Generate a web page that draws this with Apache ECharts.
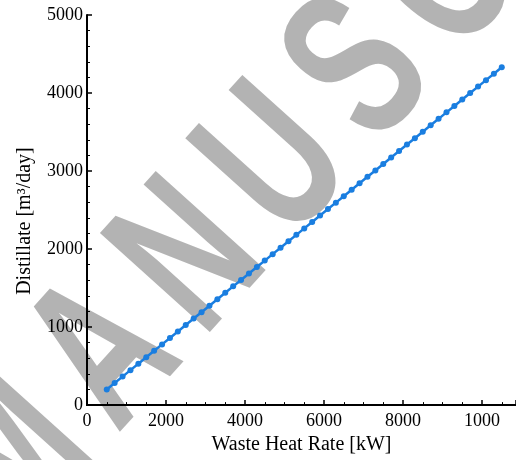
<!DOCTYPE html>
<html>
<head>
<meta charset="utf-8">
<script src="https://cdn.jsdelivr.net/npm/echarts@6/dist/echarts.min.js"></script>
<style>html,body{margin:0;padding:0;background:#fff}#c{width:516px;height:460px}</style>
</head>
<body>
<div id="c"></div>
<script>
var wasteHeat = [500,700,900,1100,1300,1500,1700,1900,2100,2300,2500,2700,2900,3100,3300,3500,3700,3900,4100,4300,4500,4700,4900,5100,5300,5500,5700,5900,6100,6300,6500,6700,6900,7100,7300,7500,7700,7900,8100,8300,8500,8700,8900,9100,9300,9500,9700,9900,10100,10300,10500];
var distillate = [200,283,365,448,530,613,696,778,861,943,1026,1109,1191,1274,1356,1439,1522,1604,1687,1769,1852,1935,2017,2100,2182,2265,2348,2430,2513,2595,2678,2761,2843,2926,3008,3091,3174,3256,3339,3421,3504,3587,3669,3752,3834,3917,4000,4082,4165,4247,4330];
var xTickLabels = ['0','2000','4000','6000','8000','1000'];
var yTickLabels = ['0','1000','2000','3000','4000','5000'];
var xName = 'Waste Heat Rate [kW]';
var yName = 'Distillate [m\u00b3/day]';
var watermark = 'MANUSCRIPT';

var chart = echarts.init(document.getElementById('c'), null, {renderer:'canvas'});
var serif = 'Liberation Serif';
var pts = wasteHeat.map(function(x,i){return [x, distillate[i]];});

// watermark: spaced capital letters in a rotated, horizontally condensed group
var wmFont = 'bold 215px "Liberation Sans"';
var wmSpacing = 39.4;
var mctx = document.createElement('canvas').getContext('2d');
mctx.font = wmFont;
var wmChildren = [];
var cx = 0;
watermark.split('').forEach(function(ch){
  wmChildren.push({type:'text', x:cx, y:0,
    style:{text:ch, font:wmFont, fill:'#878787', opacity:0.63, textAlign:'left', textVerticalAlign:'middle'}});
  cx += mctx.measureText(ch).width + wmSpacing;
});

chart.setOption({
  animation:false,
  backgroundColor:'#fff',
  grid:{left:87, right:0, top:15, bottom:52, containLabel:false},
  xAxis:[{
    type:'value', min:0, max:10860, interval:2000,
    axisLine:{show:true, onZero:false, lineStyle:{color:'#000', width:2}},
    axisTick:{show:true, inside:true, length:5, lineStyle:{color:'#000', width:1.5}},
    minorTick:{show:true, splitNumber:4, length:3, lineStyle:{color:'#000', width:1}},
    splitLine:{show:false},
    axisLabel:{showMaxLabel:false, color:'#000', fontFamily:serif, fontSize:18, margin:7,
      formatter:function(v){return xTickLabels[Math.round(v/2000)];}},
    name:xName, nameLocation:'middle', nameGap:22,
    nameTextStyle:{color:'#000', fontFamily:serif, fontSize:20}
  },{
    type:'value', position:'top', min:0, max:10860,
    axisLine:{show:true, lineStyle:{color:'#000', width:2}},
    axisTick:{show:false}, axisLabel:{show:false}, splitLine:{show:false}
  }],
  yAxis:{
    type:'value', min:0, max:5000, interval:1000,
    axisLine:{show:true, onZero:false, lineStyle:{color:'#000', width:2}},
    axisTick:{show:true, inside:true, length:5, lineStyle:{color:'#000', width:1.5}},
    minorTick:{show:true, splitNumber:5, length:3, lineStyle:{color:'#000', width:1}},
    splitLine:{show:false},
    axisLabel:{color:'#000', fontFamily:serif, fontSize:18, margin:4,
      formatter:function(v){return yTickLabels[Math.round(v/1000)];}},
    name:yName, nameLocation:'middle', nameGap:52,
    nameTextStyle:{color:'#000', fontFamily:serif, fontSize:20, padding:[0,22,0,0]}
  },
  series:[{
    type:'line', data:pts, symbol:'circle', symbolSize:6, showSymbol:true,
    lineStyle:{color:'#1a7ee0', width:2.5}, itemStyle:{color:'#1a7ee0'}
  }],
  graphic:[{
    type:'group', x:-23, y:502, rotation:48*Math.PI/180, scaleX:0.66, scaleY:1, z:100,
    children:wmChildren
  }]
});
</script>
</body>
</html>
